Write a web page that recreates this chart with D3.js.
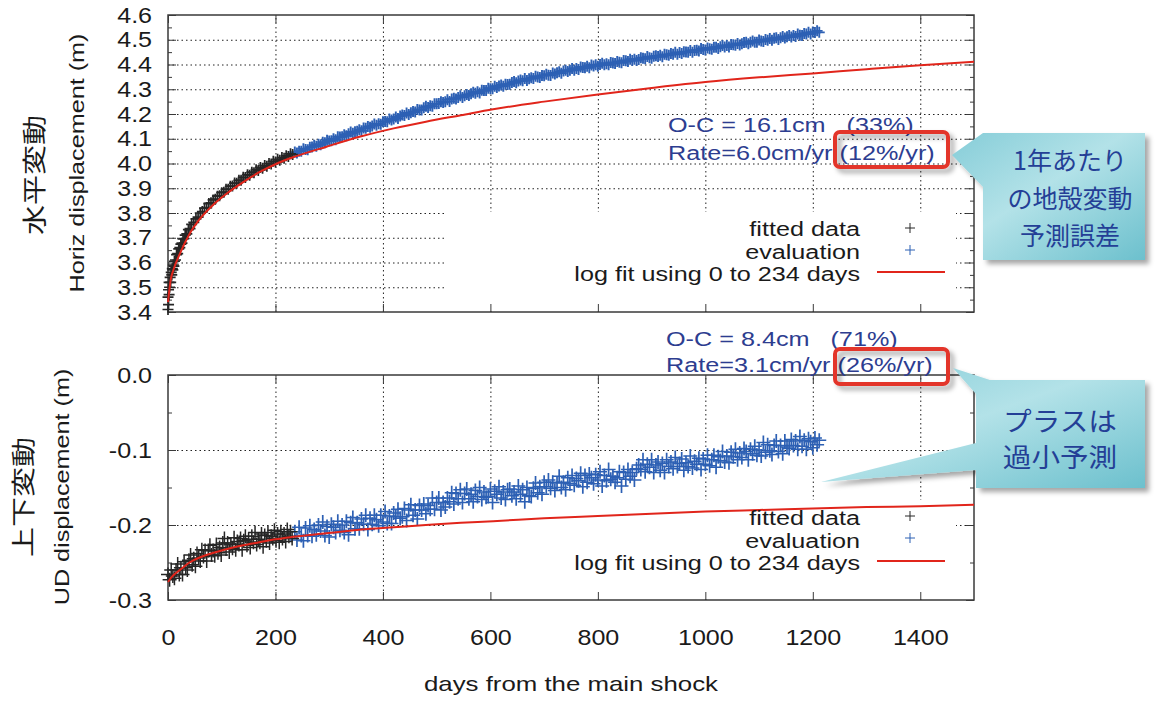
<!DOCTYPE html>
<html>
<head>
<meta charset="utf-8">
<script src="https://cdn.jsdelivr.net/npm/d3@7"></script>
<style>
  body { margin: 0; background: #fff; }
  text { font-family: "Liberation Sans", Arial, sans-serif; }
</style>
</head>
<body>
<svg id="chart" width="1160" height="701"></svg>
<script>
// ---- values ----
var dayTicks = [0, 200, 400, 600, 800, 1000, 1200, 1400],
    horizTicks = [3.4, 3.5, 3.6, 3.7, 3.8, 3.9, 4.0, 4.1, 4.2, 4.3, 4.4, 4.5, 4.6],
    udTicks = [-0.3, -0.2, -0.1, 0.0];

// horizontal: fitted data (0-234 days)
var fitDaysH = [0,0,1,1,2,2,3,4,5,6,7,8,9,10,11,12,14,16,18,20,22,24,26,28,30,32,35,38,41,44,
                48,52,56,60,64,68,72,76,80,84,88,92,96,100,104,108,112,116,120,124,128,132,136,140,
                144,148,152,156,160,164,168,172,176,180,184,188,192,196,200,204,208,212,216,220,224,228,232];
var fittedH = [3.41,3.46,3.43,3.49,3.47,3.52,3.50,3.54,3.52,3.56,
               3.55,3.575,3.57,3.59,3.585,3.605,3.61,3.632,3.636,3.655,
               3.66,3.674,3.678,3.695,3.697,3.711,3.716,3.733,3.737,3.754,
               3.762,3.776,3.783,3.800,3.806,3.820,3.822,3.838,3.841,3.853,
               3.856,3.868,3.870,3.882,3.884,3.896,3.896,3.908,3.909,3.921,
               3.920,3.932,3.932,3.944,3.943,3.955,3.953,3.965,3.963,3.975,
               3.972,3.984,3.981,3.992,3.989,4.000,3.998,4.009,4.006,4.017,
               4.013,4.024,4.021,4.031,4.028,4.039,4.036];

// horizontal: evaluation, one value every 4 days from day 236
var evalStartH = 236, evalStepH = 4;
var evalH = [4.046,4.042,4.050,4.050,4.060,4.057,4.056,4.066,4.067,4.074,
             4.070,4.078,4.076,4.086,4.084,4.094,4.091,4.092,4.100,4.096,
             4.108,4.107,4.108,4.116,4.112,4.120,4.127,4.122,4.128,4.130,
             4.136,4.132,4.143,4.142,4.150,4.146,4.152,4.160,4.155,4.161,
             4.159,4.169,4.170,4.169,4.180,4.176,4.180,4.188,4.182,4.192,
             4.196,4.194,4.204,4.198,4.205,4.210,4.208,4.218,4.216,4.216,
             4.225,4.231,4.226,4.233,4.231,4.241,4.241,4.242,4.250,4.246,
             4.249,4.258,4.251,4.261,4.264,4.261,4.267,4.274,4.267,4.274,
             4.279,4.275,4.282,4.288,4.284,4.290,4.285,4.296,4.295,4.295,
             4.304,4.302,4.302,4.312,4.307,4.313,4.317,4.312,4.320,4.319,
             4.320,4.327,4.331,4.326,4.333,4.337,4.334,4.343,4.335,4.342,
             4.346,4.343,4.353,4.349,4.347,4.356,4.355,4.361,4.357,4.356,
             4.366,4.362,4.367,4.371,4.365,4.374,4.377,4.372,4.377,4.384,
             4.377,4.384,4.380,4.390,4.388,4.387,4.393,4.387,4.398,4.394,
             4.399,4.393,4.400,4.405,4.399,4.403,4.399,4.408,4.406,4.404,
             4.412,4.409,4.407,4.416,4.415,4.412,4.421,4.416,4.421,4.416,
             4.420,4.427,4.425,4.423,4.432,4.427,4.425,4.433,4.435,4.432,
             4.437,4.431,4.441,4.439,4.437,4.444,4.441,4.449,4.441,4.448,
             4.444,4.452,4.451,4.450,4.457,4.449,4.457,4.458,4.455,4.465,
             4.461,4.459,4.467,4.464,4.462,4.470,4.470,4.465,4.472,4.477,
             4.471,4.477,4.471,4.481,4.480,4.478,4.485,4.479,4.484,4.489,
             4.490,4.484,4.490,4.495,4.490,4.490,4.499,4.495,4.493,4.501,
             4.498,4.505,4.498,4.506,4.508,4.501,4.508,4.513,4.507,4.512,
             4.517,4.511,4.517,4.513,4.523,4.518,4.517,4.525,4.523,4.530,
             4.523,4.531,4.529,4.536,4.530];

// log fit curves (both panels share the days)
var logFitDays = [0,5,10,22,40,60,85,110,140,170,200,230,295,360,420,480,545,605,700,800,900,1000,1100,1200,1300,1400,1500];
var logFitH = [3.44,3.53,3.57,3.635,3.715,3.778,3.835,3.88,3.925,3.965,3.997,4.023,4.068,4.11,4.142,4.169,4.195,4.219,4.25,4.279,4.305,4.329,4.348,4.364,4.381,4.397,4.411];
var logFitUD = [-0.276,-0.271,-0.267,-0.260,-0.250,-0.243,-0.237,-0.232,-0.227,-0.223,-0.219,-0.216,-0.211,-0.206,-0.203,-0.200,-0.197,-0.195,-0.191,-0.188,-0.185,-0.182,-0.180,-0.178,-0.176,-0.175,-0.173];

// up-down: fitted data, every 3 days from day 0
var fitStartUD = 0, fitStepUD = 3;
var fittedUD = [-0.266,-0.273,-0.260,-0.268,-0.271,-0.260,-0.252,-0.266,-0.257,-0.266,
                -0.249,-0.257,-0.260,-0.247,-0.240,-0.253,-0.245,-0.255,-0.238,-0.244,
                -0.248,-0.233,-0.242,-0.234,-0.248,-0.234,-0.227,-0.240,-0.234,-0.241,
                -0.226,-0.237,-0.230,-0.240,-0.224,-0.218,-0.232,-0.224,-0.236,-0.226,
                -0.231,-0.217,-0.233,-0.222,-0.226,-0.218,-0.233,-0.221,-0.215,-0.227,
                -0.219,-0.230,-0.215,-0.223,-0.210,-0.226,-0.219,-0.223,-0.212,-0.229,
                -0.214,-0.221,-0.210,-0.224,-0.215,-0.218,-0.207,-0.221,-0.212,-0.223,
                -0.209,-0.218,-0.212,-0.222,-0.206,-0.215,-0.209,-0.218];

// up-down: evaluation, every 4 days from day 236
var evalStartUD = 236, evalStepUD = 4;
var evalUD = [-0.209,-0.220,-0.203,-0.214,-0.221,-0.204,-0.214,-0.201,-0.215,-0.206,
              -0.213,-0.200,-0.208,-0.196,-0.214,-0.202,-0.216,-0.199,-0.203,-0.210,
              -0.195,-0.207,-0.200,-0.210,-0.195,-0.213,-0.197,-0.190,-0.205,-0.197,
              -0.205,-0.192,-0.199,-0.187,-0.206,-0.191,-0.199,-0.187,-0.193,-0.201,
              -0.187,-0.196,-0.182,-0.198,-0.188,-0.198,-0.184,-0.189,-0.179,-0.191,
              -0.189,-0.178,-0.194,-0.180,-0.173,-0.187,-0.180,-0.192,-0.174,-0.180,
              -0.172,-0.185,-0.174,-0.179,-0.164,-0.179,-0.170,-0.164,-0.180,-0.170,
              -0.176,-0.164,-0.169,-0.157,-0.172,-0.158,-0.165,-0.153,-0.170,-0.158,
              -0.152,-0.165,-0.159,-0.169,-0.154,-0.162,-0.150,-0.166,-0.156,-0.163,
              -0.162,-0.152,-0.170,-0.155,-0.159,-0.149,-0.164,-0.156,-0.166,-0.153,
              -0.152,-0.161,-0.156,-0.165,-0.148,-0.159,-0.153,-0.169,-0.150,-0.161,
              -0.162,-0.151,-0.144,-0.157,-0.149,-0.159,-0.143,-0.149,-0.140,-0.151,
              -0.143,-0.154,-0.144,-0.135,-0.150,-0.143,-0.153,-0.137,-0.145,-0.134,
              -0.147,-0.138,-0.141,-0.131,-0.149,-0.134,-0.143,-0.132,-0.137,-0.145,
              -0.133,-0.140,-0.129,-0.148,-0.134,-0.141,-0.126,-0.139,-0.135,-0.143,
              -0.137,-0.129,-0.148,-0.130,-0.139,-0.126,-0.135,-0.130,-0.140,-0.125,
              -0.120,-0.126,-0.113,-0.129,-0.119,-0.123,-0.113,-0.130,-0.120,-0.116,
              -0.127,-0.118,-0.130,-0.113,-0.122,-0.116,-0.125,-0.110,-0.122,-0.118,
              -0.112,-0.127,-0.117,-0.122,-0.108,-0.124,-0.115,-0.119,-0.111,-0.126,
              -0.112,-0.119,-0.107,-0.121,-0.113,-0.107,-0.123,-0.109,-0.114,-0.102,
              -0.116,-0.108,-0.117,-0.103,-0.109,-0.099,-0.113,-0.104,-0.110,-0.098,
              -0.102,-0.113,-0.099,-0.105,-0.095,-0.107,-0.100,-0.108,-0.090,-0.103,
              -0.093,-0.101,-0.106,-0.094,-0.088,-0.102,-0.094,-0.105,-0.088,-0.096,
              -0.098,-0.086,-0.094,-0.088,-0.099,-0.082,-0.095,-0.087,-0.099,-0.085,
              -0.089,-0.097,-0.084,-0.093,-0.087];

var legendLabels = ["fitted data", "evaluation", "log fit using 0 to 234 days"];

// ---- layout ----
var left = 168, right = 974,
    topH = 15, botH = 312,
    topU = 375, botU = 600,
    blueC = "#2d60b4", blackC = "#262626", redC = "#e1251b", noteC = "#2d3d90";

var x = d3.scaleLinear().domain([0, 1500]).range([left, right]),
    yH = d3.scaleLinear().domain([3.4, 4.6]).range([botH, topH]),
    yU = d3.scaleLinear().domain([-0.3, 0]).range([botU, topU]);

var svg = d3.select("#chart");
var defs = svg.append("defs");

var grad = defs.append("linearGradient").attr("id", "teal")
    .attr("x1", 0).attr("y1", 0).attr("x2", 1).attr("y2", 1);
grad.append("stop").attr("offset", "0%").attr("stop-color", "#86cdd8");
grad.append("stop").attr("offset", "45%").attr("stop-color", "#b3e2e8");
grad.append("stop").attr("offset", "100%").attr("stop-color", "#6cc0cd");

var sh = defs.append("filter").attr("id", "shadow")
    .attr("x", "-20%").attr("y", "-20%").attr("width", "150%").attr("height", "150%");
sh.append("feDropShadow").attr("dx", 4).attr("dy", 4).attr("stdDeviation", 2.5)
    .attr("flood-color", "#000").attr("flood-opacity", 0.35);

// stretched text helper (the original lettering is wide)
function addText(str, px, py, size, anchor, sx, rot, fill, family) {
  var t = svg.append("text")
      .attr("transform", "translate(" + px + "," + py + ")" + (rot ? " rotate(" + rot + ")" : "") + " scale(" + sx + ",1)")
      .attr("text-anchor", anchor)
      .style("font-size", size + "px")
      .style("fill", fill || "#1a1a1a")
      .style("white-space", "pre")
      .text(str);
  if (family) t.style("font-family", family);
  return t;
}

function cross(g, pts, xs, ys, arm, color, sw) {
  g.selectAll("path").data(pts).join("path")
    .attr("d", "M" + (-arm) + ",0H" + arm + "M0," + (-arm) + "V" + arm)
    .attr("transform", function(d) { return "translate(" + xs(d[0]) + "," + ys(d[1]) + ")"; })
    .style("stroke", color).style("stroke-width", sw).style("fill", "none");
}

function drawPanel(y, top, bottom, ticks, minor, showX, keyTop) {
  var h = bottom - top;
  // dotted grid
  var gx = svg.append("g").attr("transform", "translate(0," + bottom + ")")
      .call(d3.axisBottom(x).tickValues(dayTicks.slice(1)).tickSize(-h).tickFormat(""));
  var gy = svg.append("g").attr("transform", "translate(" + left + ",0)")
      .call(d3.axisLeft(y).tickValues(ticks.slice(1, -1)).tickSize(-(right - left)).tickFormat(""));
  [gx, gy].forEach(function(g) {
    g.select(".domain").remove();
    g.selectAll("line").style("stroke", "#222").style("stroke-width", 1).style("stroke-dasharray", "1.5,3");
  });

  // opaque key box
  svg.append("rect").attr("x", 447).attr("y", keyTop).attr("width", 956 - 447).attr("height", bottom - keyTop - 1)
     .style("fill", "#fff");

  // frame
  svg.append("rect").attr("x", left).attr("y", top).attr("width", right - left).attr("height", h)
     .style("fill", "none").style("stroke", "#3a3a3a").style("stroke-width", 1.5);

  // ticks (inward, mirrored)
  var yl = svg.append("g").attr("transform", "translate(" + left + ",0)")
      .call(d3.axisLeft(y).tickValues(ticks).tickSize(-8).tickPadding(14)
            .tickFormat(function(d) { return d.toFixed(1); }));
  yl.selectAll("text").style("font-size", "22px").style("fill", "#1a1a1a")
      .attr("transform", "scale(1.14,1)");
  var ylm = svg.append("g").attr("transform", "translate(" + left + ",0)")
      .call(d3.axisLeft(y).tickValues(minor).tickSize(-4).tickFormat(""));
  var yr = svg.append("g").attr("transform", "translate(" + right + ",0)")
      .call(d3.axisRight(y).tickValues(ticks).tickSize(-8).tickFormat(""));
  var yrm = svg.append("g").attr("transform", "translate(" + right + ",0)")
      .call(d3.axisRight(y).tickValues(minor).tickSize(-4).tickFormat(""));
  var xb = svg.append("g").attr("transform", "translate(0," + bottom + ")")
      .call(d3.axisBottom(x).tickValues(dayTicks).tickSize(-8).tickPadding(29)
            .tickFormat(showX ? d3.format("d") : ""));
  xb.selectAll("text").style("font-size", "22px").style("fill", "#1a1a1a")
      .attr("transform", "scale(1.14,1)");
  var xt = svg.append("g").attr("transform", "translate(0," + top + ")")
      .call(d3.axisTop(x).tickValues(dayTicks).tickSize(-8).tickFormat(""));
  [yl, ylm, yr, yrm, xb, xt].forEach(function(g) {
    g.select(".domain").remove();
    g.selectAll("line").style("stroke", "#3a3a3a").style("stroke-width", 1);
  });
}

drawPanel(yH, topH, botH, horizTicks, [3.45,3.55,3.65,3.75,3.85,3.95,4.05,4.15,4.25,4.35,4.45,4.55], false, 212);
drawPanel(yU, topU, botU, udTicks, [-0.25,-0.15,-0.05], true, 500);

// ---- data ----
var ptsFitH = d3.zip(fitDaysH, fittedH),
    ptsEvalH = evalH.map(function(v, i) { return [evalStartH + i * evalStepH, v]; }),
    ptsFitUD = fittedUD.map(function(v, i) { return [fitStartUD + i * fitStepUD, v]; }),
    ptsEvalUD = evalUD.map(function(v, i) { return [evalStartUD + i * evalStepUD, v]; });

cross(svg.append("g"), ptsEvalH, x, yH, 5.5, blueC, 1.9);
cross(svg.append("g"), ptsFitH, x, yH, 5.5, blackC, 1.7);
cross(svg.append("g"), ptsEvalUD, x, yU, 7, blueC, 1.7);
cross(svg.append("g"), ptsFitUD, x, yU, 7, blackC, 1.5);

var lineH = d3.line().x(function(d) { return x(d[0]); }).y(function(d) { return yH(d[1]); }).curve(d3.curveMonotoneX),
    lineU = d3.line().x(function(d) { return x(d[0]); }).y(function(d) { return yU(d[1]); }).curve(d3.curveMonotoneX);
svg.append("path").attr("d", lineH(d3.zip(logFitDays, logFitH)))
   .style("fill", "none").style("stroke", redC).style("stroke-width", 2);
svg.append("path").attr("d", lineU(d3.zip(logFitDays, logFitUD)))
   .style("fill", "none").style("stroke", redC).style("stroke-width", 2);

// ---- keys ----
function drawKey(base, mark0, mark1, lineY) {
  legendLabels.forEach(function(l, i) { addText(l, 860, base + i * 22.5, 21, "end", 1.2); });
  var g = svg.append("g");
  cross(g.append("g"), [[0, 0]], function() { return 910; }, function() { return mark0; }, 5, blackC, 1);
  cross(g.append("g"), [[0, 0]], function() { return 910; }, function() { return mark1; }, 5, blueC, 1);
  g.append("line").attr("x1", 877).attr("x2", 945).attr("y1", lineY).attr("y2", lineY)
   .style("stroke", redC).style("stroke-width", 2);
}
drawKey(236, 228, 250, 272);
drawKey(525, 516, 538, 561);

// ---- axis titles ----
addText("Horiz displacement (m)", 84, 163, 21, "middle", 1.2, -90);
addText("水平変動", 43, 175, 24, "middle", 1.25, -90, "#1a1a1a", "Noto Sans CJK JP");
addText("UD displacement (m)", 69, 487, 21, "middle", 1.2, -90);
addText("上下変動", 32, 497, 24, "middle", 1.25, -90, "#1a1a1a", "Noto Sans CJK JP");
addText("days from the main shock", 571, 691, 21, "middle", 1.23, 0);

// ---- notes ----
addText("O-C = 16.1cm   (33%)", 668, 132, 21, "start", 1.2, 0, noteC);
addText("Rate=6.0cm/yr (12%/yr)", 668, 160, 21, "start", 1.2, 0, noteC);
addText("O-C = 8.4cm   (71%)", 666, 346, 21, "start", 1.2, 0, noteC);
addText("Rate=3.1cm/yr (26%/yr)", 666, 372, 21, "start", 1.2, 0, noteC);

[[835, 132], [835, 349]].forEach(function(p) {
  svg.append("rect").attr("x", p[0]).attr("y", p[1]).attr("width", 113).attr("height", 35)
     .attr("rx", 5).style("fill", "none").style("stroke", "#e3342a").style("stroke-width", 4)
     .attr("filter", "url(#shadow)");
});

// callouts
svg.append("path").attr("d", "M983,133H1145V260H983V187L952,155Z")
   .style("fill", "url(#teal)").attr("filter", "url(#shadow)");
svg.append("path").attr("d", "M990,380H1145V488H976V470L821,482L976,443V394L953,368Z")
   .style("fill", "url(#teal)").attr("filter", "url(#shadow)");

var jp = "Noto Sans CJK JP", jpC = "#243f96";
addText("1年あたり", 1070, 170, 25, "middle", 1.0, 0, jpC, jp);
addText("の地殻変動", 1070, 208, 25, "middle", 1.0, 0, jpC, jp);
addText("予測誤差", 1070, 245, 25, "middle", 1.0, 0, jpC, jp);
addText("プラスは", 1060, 431, 26, "middle", 1.1, 0, jpC, jp);
addText("過小予測", 1060, 467, 26, "middle", 1.1, 0, jpC, jp);
</script>
</body>
</html>
